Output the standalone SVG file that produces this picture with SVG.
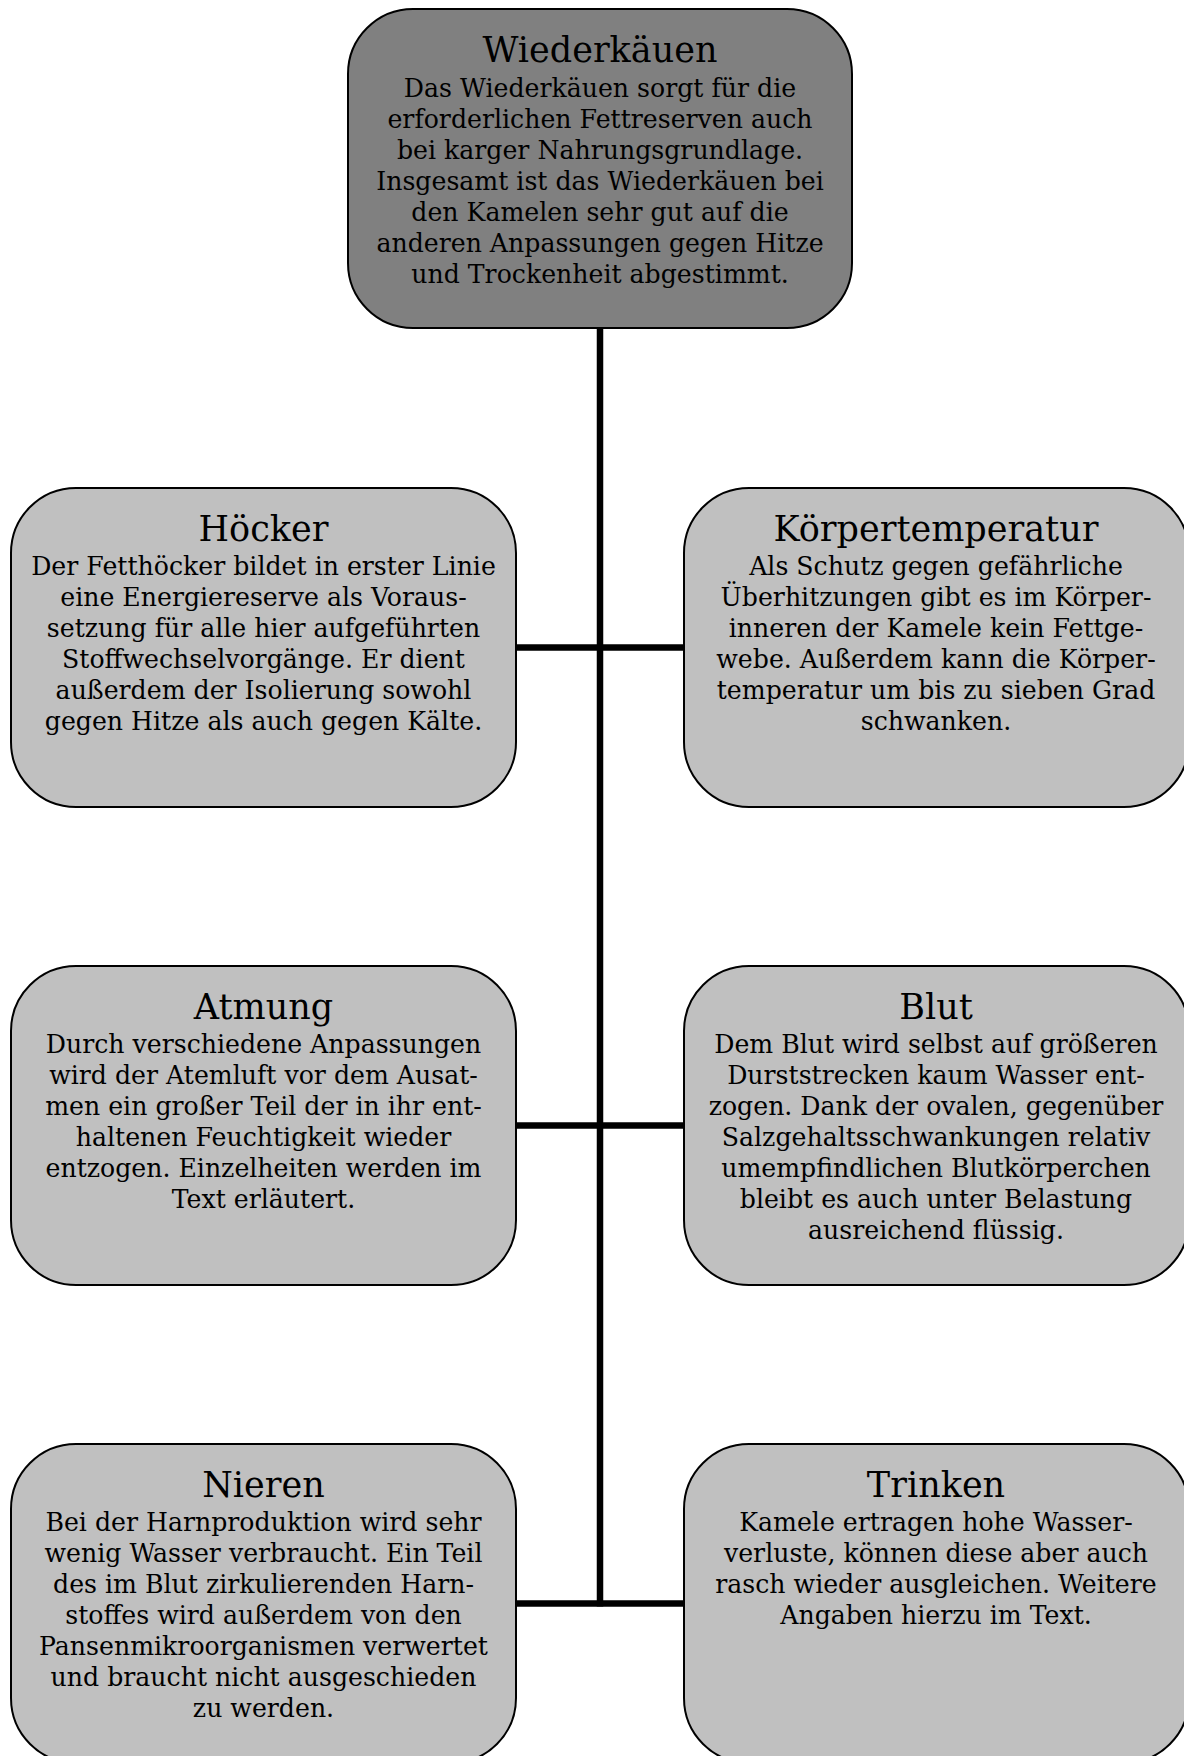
<svg xmlns="http://www.w3.org/2000/svg" width="1184" height="1756" viewBox="0 0 1184 1756">
<style>
.box{fill:#c0c0c0;stroke:#000;stroke-width:2}
.top{fill:#808080;stroke:#000;stroke-width:2}
.t{font-family:"DejaVu Serif","Liberation Serif",serif;font-size:35px;fill:#000;text-anchor:middle}
.b{font-family:"DejaVu Serif","Liberation Serif",serif;font-size:25.2px;fill:#000;text-anchor:middle}
.c{stroke:#000;stroke-width:6.5;fill:none}
</style>
<rect width="1184" height="1756" fill="#fff"/>
<g id="connectors">
<line class="c" x1="600" y1="328" x2="600" y2="1606.5"/>
<line class="c" x1="516" y1="647.5" x2="684" y2="647.5"/>
<line class="c" x1="516" y1="1125.5" x2="684" y2="1125.5"/>
<line class="c" x1="516" y1="1603.5" x2="684" y2="1603.5"/>
</g>
<g id="wiederkaeuen">
<rect class="top" x="348" y="9" width="504" height="319" rx="65" ry="65"/>
<text class="t" x="600" y="62">Wiederkäuen</text>
<text class="b" x="600" y="97">Das Wiederkäuen sorgt für die</text>
<text class="b" x="600" y="128">erforderlichen Fettreserven auch</text>
<text class="b" x="600" y="159">bei karger Nahrungsgrundlage.</text>
<text class="b" x="600" y="190">Insgesamt ist das Wiederkäuen bei</text>
<text class="b" x="600" y="221">den Kamelen sehr gut auf die</text>
<text class="b" x="600" y="252">anderen Anpassungen gegen Hitze</text>
<text class="b" x="600" y="283">und Trockenheit abgestimmt.</text>
</g>
<g id="hoecker">
<rect class="box" x="11" y="488" width="505" height="319" rx="65" ry="65"/>
<text class="t" x="263.5" y="541">Höcker</text>
<text class="b" x="263.5" y="575">Der Fetthöcker bildet in erster Linie</text>
<text class="b" x="263.5" y="606">eine Energiereserve als Voraus-</text>
<text class="b" x="263.5" y="637">setzung für alle hier aufgeführten</text>
<text class="b" x="263.5" y="668">Stoffwechselvorgänge. Er dient</text>
<text class="b" x="263.5" y="699">außerdem der Isolierung sowohl</text>
<text class="b" x="263.5" y="730">gegen Hitze als auch gegen Kälte.</text>
</g>
<g id="koerpertemperatur">
<rect class="box" x="684" y="488" width="505" height="319" rx="65" ry="65"/>
<text class="t" x="936" y="541">Körpertemperatur</text>
<text class="b" x="936" y="575">Als Schutz gegen gefährliche</text>
<text class="b" x="936" y="606">Überhitzungen gibt es im Körper-</text>
<text class="b" x="936" y="637">inneren der Kamele kein Fettge-</text>
<text class="b" x="936" y="668">webe. Außerdem kann die Körper-</text>
<text class="b" x="936" y="699">temperatur um bis zu sieben Grad</text>
<text class="b" x="936" y="730">schwanken.</text>
</g>
<g id="atmung">
<rect class="box" x="11" y="966" width="505" height="319" rx="65" ry="65"/>
<text class="t" x="263.5" y="1019">Atmung</text>
<text class="b" x="263.5" y="1053">Durch verschiedene Anpassungen</text>
<text class="b" x="263.5" y="1084">wird der Atemluft vor dem Ausat-</text>
<text class="b" x="263.5" y="1115">men ein großer Teil der in ihr ent-</text>
<text class="b" x="263.5" y="1146">haltenen Feuchtigkeit wieder</text>
<text class="b" x="263.5" y="1177">entzogen. Einzelheiten werden im</text>
<text class="b" x="263.5" y="1208">Text erläutert.</text>
</g>
<g id="blut">
<rect class="box" x="684" y="966" width="505" height="319" rx="65" ry="65"/>
<text class="t" x="936" y="1019">Blut</text>
<text class="b" x="936" y="1053">Dem Blut wird selbst auf größeren</text>
<text class="b" x="936" y="1084">Durststrecken kaum Wasser ent-</text>
<text class="b" x="936" y="1115">zogen. Dank der ovalen, gegenüber</text>
<text class="b" x="936" y="1146">Salzgehaltsschwankungen relativ</text>
<text class="b" x="936" y="1177">umempfindlichen Blutkörperchen</text>
<text class="b" x="936" y="1208">bleibt es auch unter Belastung</text>
<text class="b" x="936" y="1239">ausreichend flüssig.</text>
</g>
<g id="nieren">
<rect class="box" x="11" y="1444" width="505" height="319" rx="65" ry="65"/>
<text class="t" x="263.5" y="1497">Nieren</text>
<text class="b" x="263.5" y="1531">Bei der Harnproduktion wird sehr</text>
<text class="b" x="263.5" y="1562">wenig Wasser verbraucht. Ein Teil</text>
<text class="b" x="263.5" y="1593">des im Blut zirkulierenden Harn-</text>
<text class="b" x="263.5" y="1624">stoffes wird außerdem von den</text>
<text class="b" x="263.5" y="1655">Pansenmikroorganismen verwertet</text>
<text class="b" x="263.5" y="1686">und braucht nicht ausgeschieden</text>
<text class="b" x="263.5" y="1717">zu werden.</text>
</g>
<g id="trinken">
<rect class="box" x="684" y="1444" width="505" height="319" rx="65" ry="65"/>
<text class="t" x="936" y="1497">Trinken</text>
<text class="b" x="936" y="1531">Kamele ertragen hohe Wasser-</text>
<text class="b" x="936" y="1562">verluste, können diese aber auch</text>
<text class="b" x="936" y="1593">rasch wieder ausgleichen. Weitere</text>
<text class="b" x="936" y="1624">Angaben hierzu im Text.</text>
</g>
</svg>
